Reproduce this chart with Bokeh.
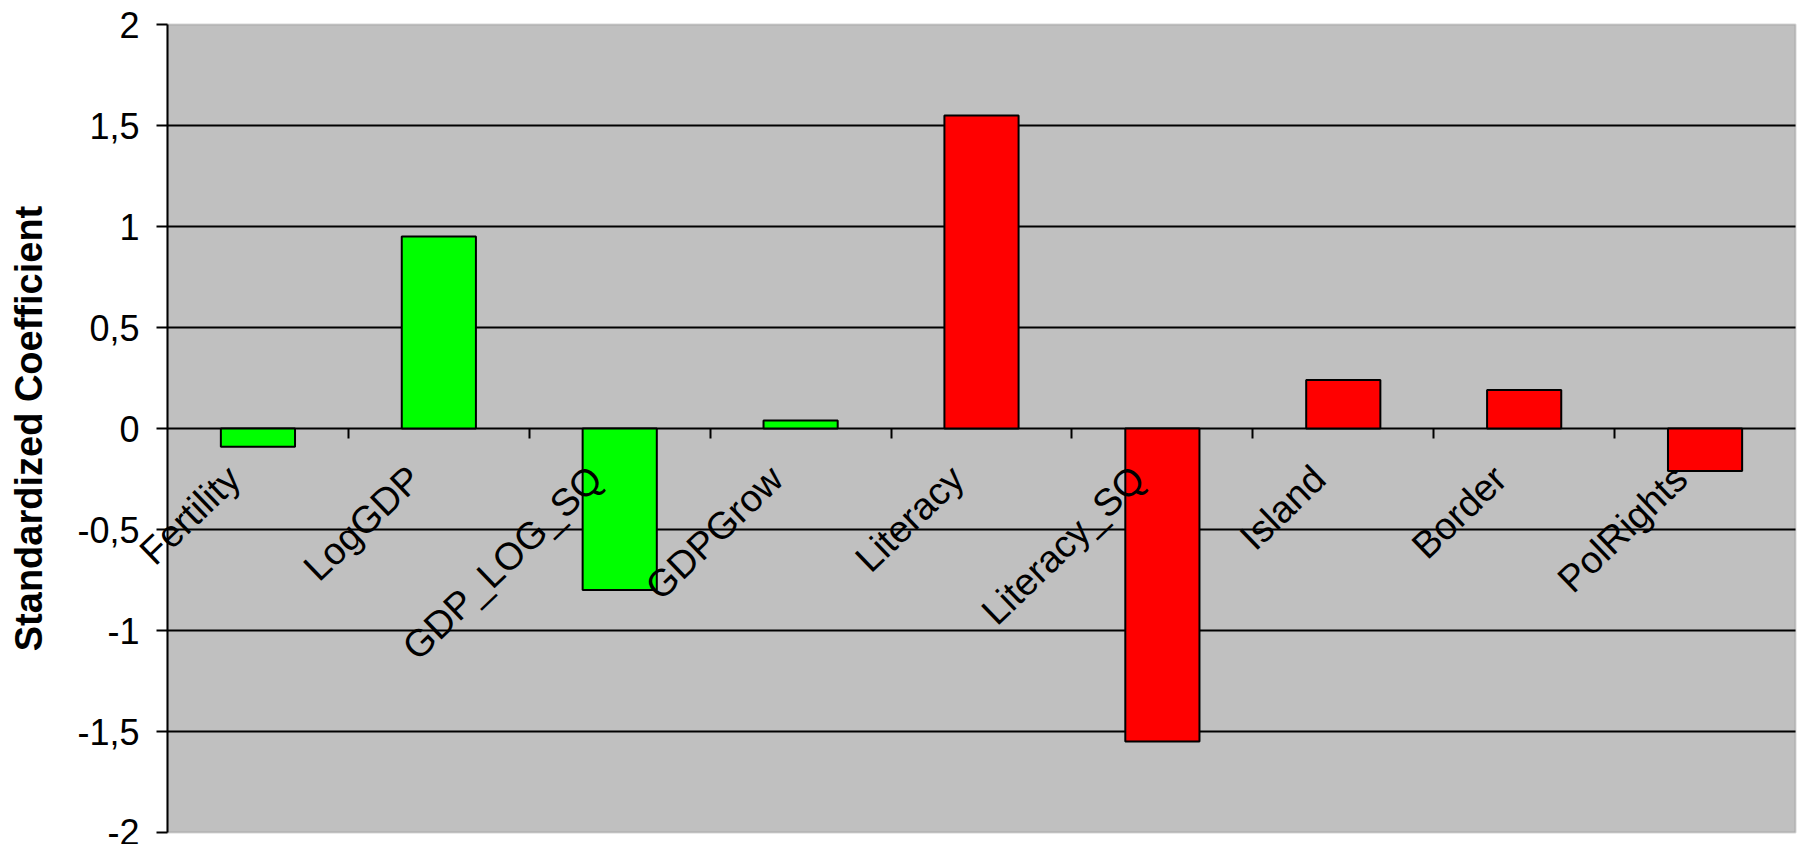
import math
from bokeh.plotting import figure
from bokeh.models import (Range1d, LinearAxis, FixedTicker, ColumnDataSource,
                          BoxAnnotation)
from bokeh.embed import file_html
from bokeh.resources import INLINE

# ---- data ----
categories = ["Fertility", "LogGDP", "GDP_LOG_SQ", "GDPGrow", "Literacy",
              "Literacy_SQ", "Island", "Border", "PolRights"]
coefficients = [-0.09, 0.95, -0.80, 0.04, 1.55, -1.55, 0.24, 0.19, -0.21]
groups = ["A", "A", "A", "A", "B", "B", "B", "B", "B"]
ytick_values = [-2.0, -1.5, -1.0, -0.5, 0.0, 0.5, 1.0, 1.5, 2.0]
ytick_labels = ["-2", "-1,5", "-1", "-0,5", "0", "0,5", "1", "1,5", "2"]
y_title = "Standardized Coefficient"

GROUP_COLORS = {"A": "#00FF00", "B": "#FF0000"}
FONT = "Liberation Sans"

# ---- layout (pixels): the frame covers the whole figure so that texts are not clipped ----
W, H = 1800, 844
PLOT_L, PLOT_R, PLOT_T, PLOT_B = 167, 1795, 24, 832   # where the data box should sit

n = len(categories)
ymin, ymax = ytick_values[0], ytick_values[-1]
sx = (PLOT_R - PLOT_L) / n                 # px per category
sy = (PLOT_B - PLOT_T) / (ymax - ymin)     # px per unit
x_start = 0 - PLOT_L / sx
x_end = n + (W - PLOT_R) / sx
y_end = ymax + PLOT_T / sy
y_start = ymin - (H - PLOT_B) / sy

centers = [i + 0.5 for i in range(n)]
src = ColumnDataSource(dict(
    pos=centers,
    cat=categories,
    val=coefficients,
    color=[GROUP_COLORS[g] for g in groups],
))

p = figure(
    x_range=Range1d(x_start, x_end),
    y_range=Range1d(y_start, y_end),
    width=W, height=H,
    output_backend="svg", toolbar_location=None,
    x_axis_location=None, y_axis_location=None,
    min_border_left=0, min_border_top=0, min_border_right=0, min_border_bottom=0,
)
p.background_fill_color = "white"
p.border_fill_color = "white"
p.outline_line_color = None
p.xgrid.visible = False
p.ygrid.visible = False

# plot area (grey box with grey border)
p.add_layout(BoxAnnotation(left=0, right=n, bottom=ymin, top=ymax,
                           fill_color="#C0C0C0", fill_alpha=1.0,
                           line_color="#7a7a7a", line_width=2, level="underlay"))

# horizontal gridlines (inside the box only)
inner = ytick_values[1:-1]
p.segment(x0=[0] * len(inner), x1=[n] * len(inner), y0=inner, y1=inner,
          line_color="black", line_width=2)

# bars
p.vbar(x="pos", top="val", bottom=0, width=0.41, source=src,
       fill_color="color", line_color="black", line_width=2)

# tick marks at category boundaries on the zero line
tick_axis = LinearAxis(
    fixed_location=0,
    ticker=FixedTicker(ticks=list(range(1, n))),
    major_tick_out=10, major_tick_in=0, major_tick_line_width=2,
    major_tick_line_color="black",
    minor_tick_line_color=None, axis_line_color=None,
    major_label_text_alpha=0, major_label_text_font_size="1px",
)
p.add_layout(tick_axis, "below")

# category labels along the zero line (rotated, shifted slightly left of centre)
label_shift = 24 / sx
label_ticks = [c - label_shift for c in centers]
label_axis = LinearAxis(
    fixed_location=0,
    ticker=FixedTicker(ticks=label_ticks),
    major_label_overrides={t: c for t, c in zip(label_ticks, categories)},
    major_label_orientation=math.radians(44),
    major_label_standoff=38,
    major_label_text_font=FONT, major_label_text_font_size="38px",
    major_label_text_color="black",
    major_tick_line_color=None, minor_tick_line_color=None, axis_line_color=None,
)
p.add_layout(label_axis, "below")

# y axis at x = 0
y_axis = LinearAxis(
    fixed_location=0, bounds=(ymin, ymax),
    ticker=FixedTicker(ticks=ytick_values),
    major_label_overrides={v: l for v, l in zip(ytick_values, ytick_labels)},
    axis_line_color="black", axis_line_width=2,
    major_tick_out=11, major_tick_in=0, major_tick_line_width=2,
    major_tick_line_color="black", minor_tick_line_color=None,
    major_label_text_font=FONT, major_label_text_font_size="36px",
    major_label_text_color="black", major_label_standoff=17,
    axis_label=y_title, axis_label_text_font=FONT,
    axis_label_text_font_style="bold", axis_label_text_font_size="38px",
    axis_label_text_color="black", axis_label_standoff=24,
)
p.add_layout(y_axis, "left")

open("out.html", "w").write(file_html(p, INLINE))
